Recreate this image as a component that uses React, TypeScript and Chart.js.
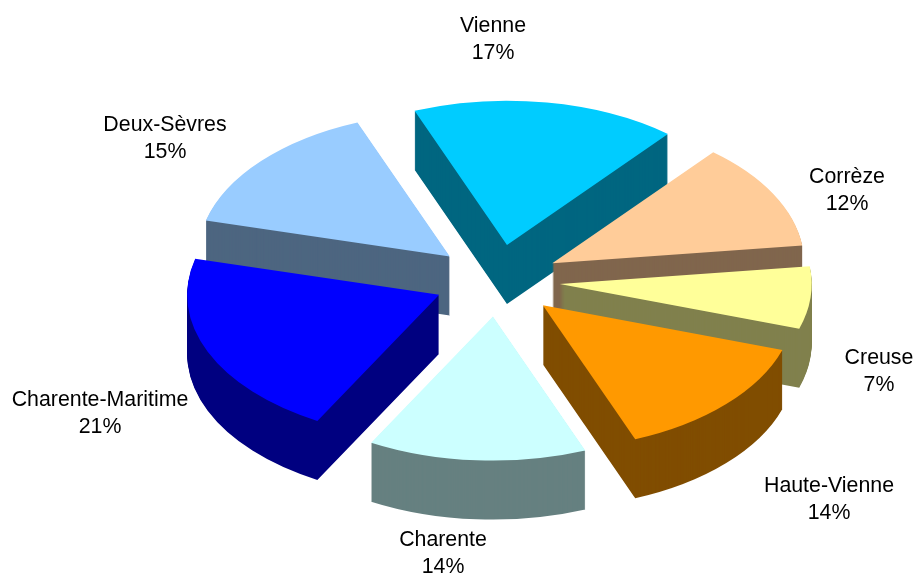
import React, { useEffect, useRef } from "react";
import { Chart, registerables } from "chart.js";

Chart.register(...registerables);

const categories = ["Vienne", "Corrèze", "Creuse", "Haute-Vienne", "Charente", "Charente-Maritime", "Deux-Sèvres"];
const shares = [17, 12, 7, 14, 14, 21, 15];
const topColors = ["#00CCFF", "#FFCC99", "#FFFF99", "#FF9900", "#CCFFFF", "#0000FF", "#99CCFF"];
const wallColors = ["#006680", "#80664D", "#80804D", "#804D00", "#668080", "#000080", "#4D6680"];
const labelCentres = [
  [493, 40], [847, 191], [879, 372], [829, 500], [443, 554], [100, 414], [165, 139],
];

const SQUASH = 0.572;
const DEPTH = 59;
const EXPLODE = 63;
const FONT = '21.33px "Liberation Sans", Arial, sans-serif';
const LINE = 27;

const pie3d = {
  id: "pie3d",
  beforeDatasetsDraw(chart: any) {
    const { ctx } = chart;
    const arcs: any[] = chart.getDatasetMeta(0).data;
    const order = arcs
      .map((arc, i) => ({ arc, i, mid: (arc.startAngle + arc.endAngle) / 2 }))
      .sort((a, b) => Math.sin(a.mid) - Math.sin(b.mid));
    for (const { arc, i, mid } of order) {
      const base = arc.options;
      const drawAt = (dy: number, color: string) => {
        ctx.save();
        ctx.translate(0, arc.y + dy);
        ctx.scale(1, SQUASH);
        ctx.translate(Math.cos(mid) * EXPLODE, Math.sin(mid) * EXPLODE - arc.y);
        const o = Object.create(base);
        o.backgroundColor = color;
        o.borderWidth = 0;
        arc.options = o;
        arc.draw(ctx);
        arc.options = base;
        ctx.restore();
      };
      for (let d = DEPTH; d > 0; d--) drawAt(d, wallColors[i]);
      drawAt(0, topColors[i]);
    }
    return false;
  },
  afterDraw(chart: any) {
    const { ctx } = chart;
    ctx.save();
    ctx.font = FONT;
    ctx.fillStyle = "#000";
    ctx.textAlign = "center";
    ctx.textBaseline = "middle";
    categories.forEach((name, i) => {
      const [x, y] = labelCentres[i];
      ctx.fillText(name, x, y - LINE / 2);
      ctx.fillText(`${shares[i]}%`, x, y + LINE / 2);
    });
    ctx.restore();
  },
};

export default function App() {
  const ref = useRef<HTMLCanvasElement>(null);
  useEffect(() => {
    document.body.style.margin = "0";
    const chart = new Chart(ref.current as HTMLCanvasElement, {
      type: "pie",
      data: {
        labels: categories,
        datasets: [{ data: shares, backgroundColor: topColors, borderWidth: 0 }],
      },
      options: {
        animation: false,
        responsive: false,
        rotation: -21.5,
        radius: 252,
        layout: { padding: { left: 77, bottom: 15 } },
        plugins: { legend: { display: false }, tooltip: { enabled: false } },
      },
      plugins: [pie3d],
    } as any);
    return () => chart.destroy();
  }, []);
  return (
    <div style={{ width: 917, height: 576 }}>
      <canvas ref={ref} width={917} height={576} style={{ display: "block" }} />
    </div>
  );
}
